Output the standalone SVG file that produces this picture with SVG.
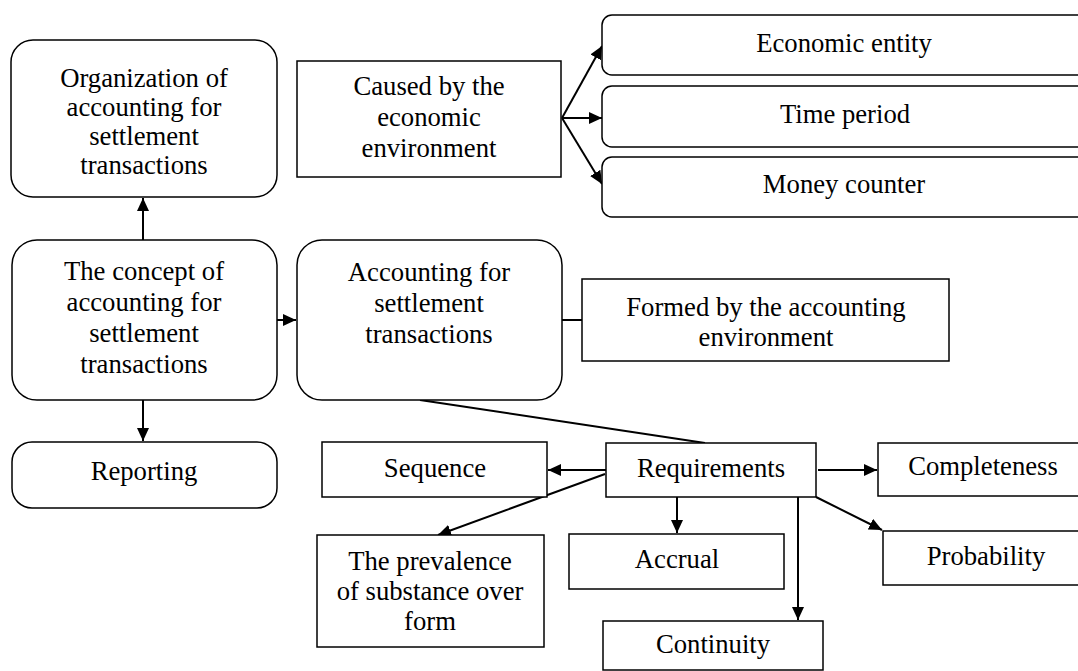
<svg xmlns="http://www.w3.org/2000/svg" width="1078" height="671" viewBox="0 0 1078 671">
<defs>
<style>
.box{fill:#fff;stroke:#000;stroke-width:1.5}
.t{font-family:"Liberation Serif","Times New Roman",serif;font-size:26.7px;fill:#000;text-anchor:middle}
.c{fill:none;stroke:#000;stroke-width:2}
.a{fill:none;stroke:#000;stroke-width:2;marker-end:url(#ah)}
</style>
<marker id="ah" markerUnits="userSpaceOnUse" markerWidth="14" markerHeight="12" refX="13" refY="6" orient="auto">
<path d="M0,0 L13,6 L0,12 z" fill="#000"/>
</marker>
</defs>
<rect width="1078" height="671" fill="#fff"/>
<g id="connectors">
<line class="a" x1="143" y1="240" x2="143" y2="198"/>
<line class="a" x1="143" y1="400" x2="143" y2="441"/>
<line class="a" x1="277" y1="320" x2="296" y2="320"/>
<line class="c" x1="562" y1="320" x2="582" y2="320"/>
<line class="a" x1="562" y1="118" x2="602" y2="46"/>
<line class="a" x1="562" y1="118" x2="602" y2="118"/>
<line class="a" x1="562" y1="118" x2="602" y2="184"/>
<line class="c" x1="420" y1="400" x2="705" y2="443"/>
<line class="a" x1="606" y1="470" x2="548" y2="470"/>
<line class="a" x1="605" y1="474" x2="438" y2="535"/>
<line class="a" x1="818" y1="470" x2="877" y2="470"/>
<line class="a" x1="816" y1="497" x2="882" y2="530"/>
<line class="a" x1="677" y1="497" x2="677" y2="533"/>
<line class="a" x1="798" y1="497" x2="798" y2="620"/>
</g>
<g id="organization">
<rect class="box" x="11" y="40" width="266" height="157" rx="22"/>
<text class="t" x="144" y="87">Organization of</text>
<text class="t" x="144" y="116">accounting for</text>
<text class="t" x="144" y="145">settlement</text>
<text class="t" x="144" y="174">transactions</text>
</g>
<g id="caused">
<rect class="box" x="297" y="61" width="264" height="116"/>
<text class="t" x="429" y="95">Caused by the</text>
<text class="t" x="429" y="126">economic</text>
<text class="t" x="429" y="157">environment</text>
</g>
<g id="economic-entity">
<rect class="box" x="602" y="15" width="486" height="60" rx="10"/>
<text class="t" x="844" y="52">Economic entity</text>
</g>
<g id="time-period">
<rect class="box" x="602" y="86" width="486" height="61" rx="10"/>
<text class="t" x="845" y="123">Time period</text>
</g>
<g id="money-counter">
<rect class="box" x="602" y="157" width="486" height="60" rx="10"/>
<text class="t" x="844" y="193">Money counter</text>
</g>
<g id="concept">
<rect class="box" x="12" y="240" width="265" height="160" rx="25"/>
<text class="t" x="144" y="280">The concept of</text>
<text class="t" x="144" y="311">accounting for</text>
<text class="t" x="144" y="342">settlement</text>
<text class="t" x="144" y="373">transactions</text>
</g>
<g id="accounting">
<rect class="box" x="297" y="240" width="265" height="160" rx="25"/>
<text class="t" x="429" y="281">Accounting for</text>
<text class="t" x="429" y="312">settlement</text>
<text class="t" x="429" y="343">transactions</text>
</g>
<g id="formed">
<rect class="box" x="582" y="279" width="367" height="82"/>
<text class="t" x="766" y="316">Formed by the accounting</text>
<text class="t" x="766" y="346">environment</text>
</g>
<g id="reporting">
<rect class="box" x="12" y="442" width="265" height="66" rx="20"/>
<text class="t" x="144" y="480">Reporting</text>
</g>
<g id="sequence">
<rect class="box" x="322" y="442" width="225" height="55"/>
<text class="t" x="435" y="477">Sequence</text>
</g>
<g id="requirements">
<rect class="box" x="606" y="443" width="210" height="54"/>
<text class="t" x="711" y="477">Requirements</text>
</g>
<g id="completeness">
<rect class="box" x="878" y="443" width="210" height="53"/>
<text class="t" x="983" y="475">Completeness</text>
</g>
<g id="probability">
<rect class="box" x="883" y="531" width="205" height="54"/>
<text class="t" x="986" y="565">Probability</text>
</g>
<g id="accrual">
<rect class="box" x="569" y="534" width="215" height="55"/>
<text class="t" x="677" y="568">Accrual</text>
</g>
<g id="prevalence">
<rect class="box" x="317" y="535" width="227" height="112"/>
<text class="t" x="430" y="570">The prevalence</text>
<text class="t" x="430" y="600">of substance over</text>
<text class="t" x="430" y="630">form</text>
</g>
<g id="continuity">
<rect class="box" x="603" y="621" width="220" height="49"/>
<text class="t" x="713" y="653">Continuity</text>
</g>
</svg>
